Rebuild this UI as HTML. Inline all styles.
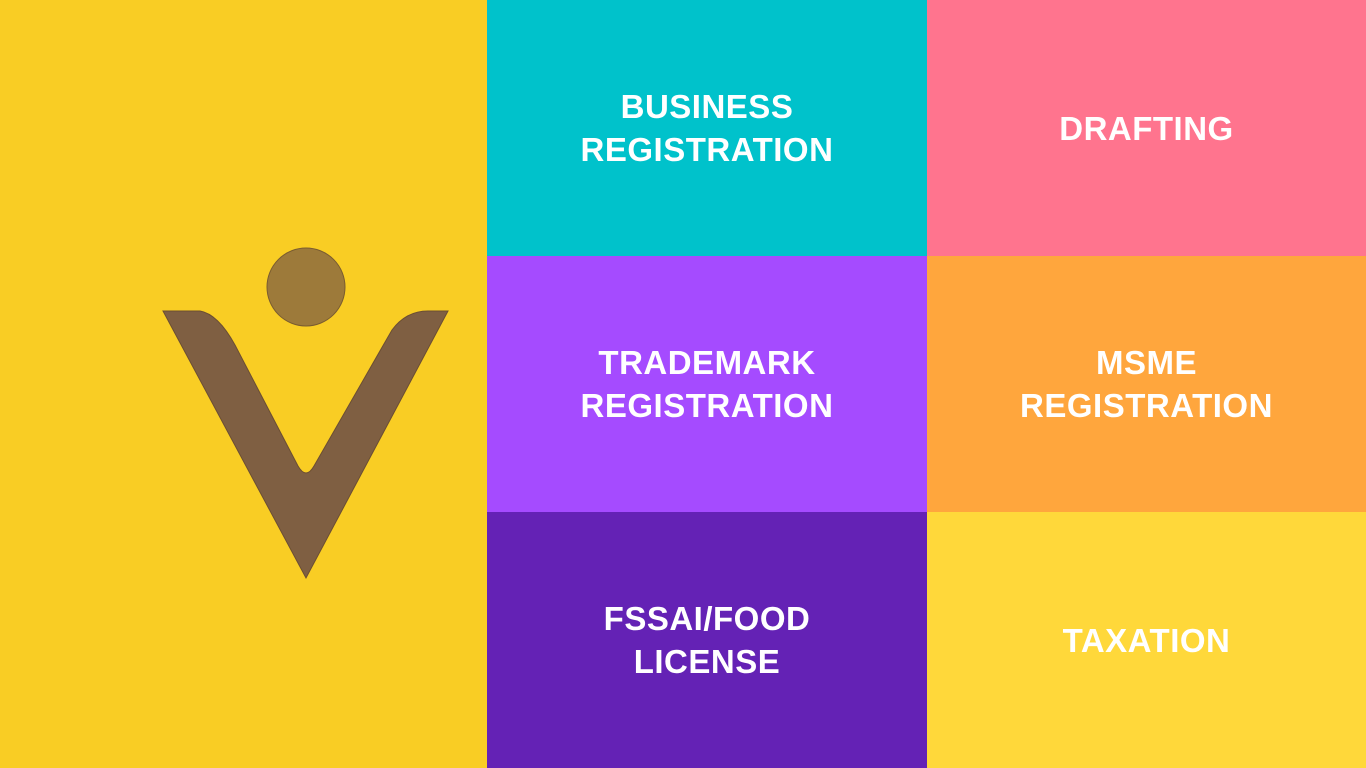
<!DOCTYPE html>
<html><head><meta charset="utf-8"><style>
html,body{margin:0;padding:0;width:1366px;height:768px;overflow:hidden;font-family:"Liberation Sans",sans-serif}
.tile{position:absolute;display:flex;align-items:center;justify-content:center;text-align:center;color:#fff;font-weight:bold;font-size:33px;line-height:43px;letter-spacing:0.5px}
</style></head><body>
<div style="position:absolute;left:0;top:0;width:487px;height:768px;background:#F9CD24">
<svg width="487" height="768" style="position:absolute;left:0;top:0">
<circle cx="306" cy="287" r="39" fill="#9D7A3A" stroke="#7a5c30" stroke-width="1"/>
<path d="M163,311 L200,311 Q218,314 235,345 L298,466 Q306,480 314,466 L392,330 Q406,311 428,311 L448,311 L306,578 Z" fill="#7F5F42" stroke="#6b4e33" stroke-width="1"/>
</svg></div>
<div class="tile" style="left:487px;top:0;width:440px;height:256px;background:#00C2CB">BUSINESS<br>REGISTRATION</div>
<div class="tile" style="left:927px;top:0;width:439px;height:256px;background:#FF748E">DRAFTING</div>
<div class="tile" style="left:487px;top:256px;width:440px;height:256px;background:#A54BFF">TRADEMARK<br>REGISTRATION</div>
<div class="tile" style="left:927px;top:256px;width:439px;height:256px;background:#FFA63D">MSME<br>REGISTRATION</div>
<div class="tile" style="left:487px;top:512px;width:440px;height:256px;background:#6422B5">FSSAI/FOOD<br>LICENSE</div>
<div class="tile" style="left:927px;top:512px;width:439px;height:256px;background:#FFD83A">TAXATION</div>
</body></html>
